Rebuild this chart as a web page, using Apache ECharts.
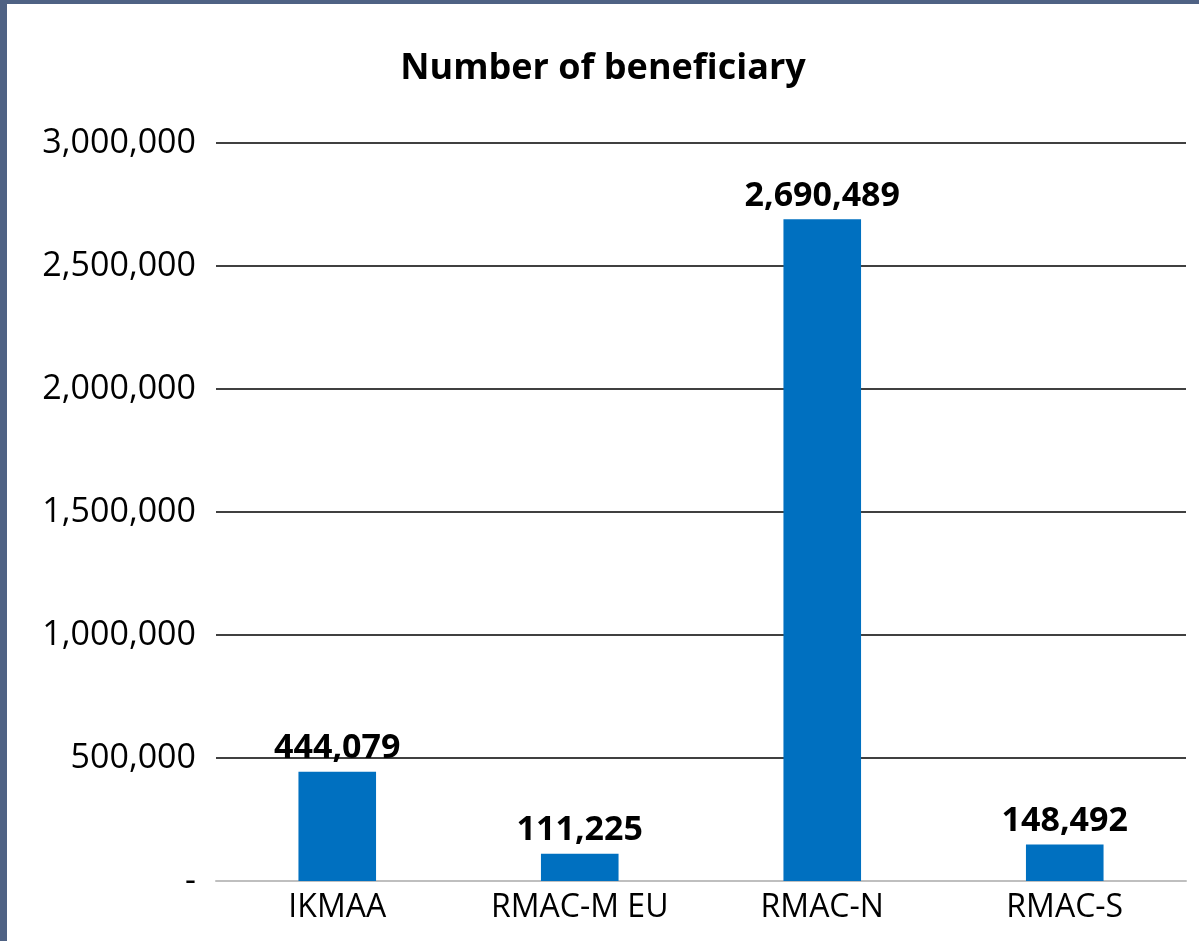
<!DOCTYPE html>
<html>
<head>
<meta charset="utf-8">
<script src="https://cdn.jsdelivr.net/npm/echarts@6/dist/echarts.min.js"></script>
<style>
  html, body { margin: 0; padding: 0; background: #fff; }
  .frame {
    width: 1192px;
    height: 937px;
    border-top: 4px solid #4f6284;
    border-left: 7px solid #4f6284;
    background: #fff;
  }
  #chart { width: 1192px; height: 937px; }
</style>
</head>
<body>
<div class="frame"><div id="chart"></div></div>
<script>
// data
const categories = ["IKMAA", "RMAC-M EU", "RMAC-N", "RMAC-S"];
const beneficiaries = [444079, 111225, 2690489, 148492];
const yTicks = [0, 500000, 1000000, 1500000, 2000000, 2500000, 3000000];

const fontFam = "'Open Sans', 'Noto Sans', sans-serif";

function fmt(v) {
  if (v === 0) return "-";
  return v.toString().replace(/\B(?=(\d{3})+(?!\d))/g, ",");
}

let option = {
  animation: false,
  title: {
    text: "Number of beneficiary",
    left: "center",
    top: 42,
    textStyle: { fontFamily: fontFam, fontSize: 36, fontWeight: "bold", color: "#000" }
  },
  grid: { left: 209, right: 13, top: 139, bottom: 60 },
  xAxis: {
    type: "category",
    data: categories,
    axisLine: { lineStyle: { color: "#bfbfbf", width: 2 } },
    axisTick: { show: false },
    axisLabel: { fontFamily: fontFam, fontSize: 32, color: "#000", margin: 11 }
  },
  yAxis: {
    type: "value",
    min: yTicks[0],
    max: yTicks[yTicks.length - 1],
    interval: 500000,
    axisLine: { show: false },
    axisTick: { show: false },
    axisLabel: { fontFamily: fontFam, fontSize: 34, color: "#000", margin: 20, formatter: fmt },
    splitLine: { lineStyle: { color: "#000", width: 1.5 } }
  },
  series: [{
    type: "bar",
    data: beneficiaries,
    barWidth: "32%",
    itemStyle: { color: "#0070c0" },
    label: {
      show: true,
      position: "top",
      distance: 6,
      formatter: p => fmt(p.value),
      fontFamily: fontFam,
      fontSize: 34,
      fontWeight: "bold",
      color: "#000"
    }
  }]
};

echarts.init(document.getElementById("chart")).setOption(option);
</script>
</body>
</html>
